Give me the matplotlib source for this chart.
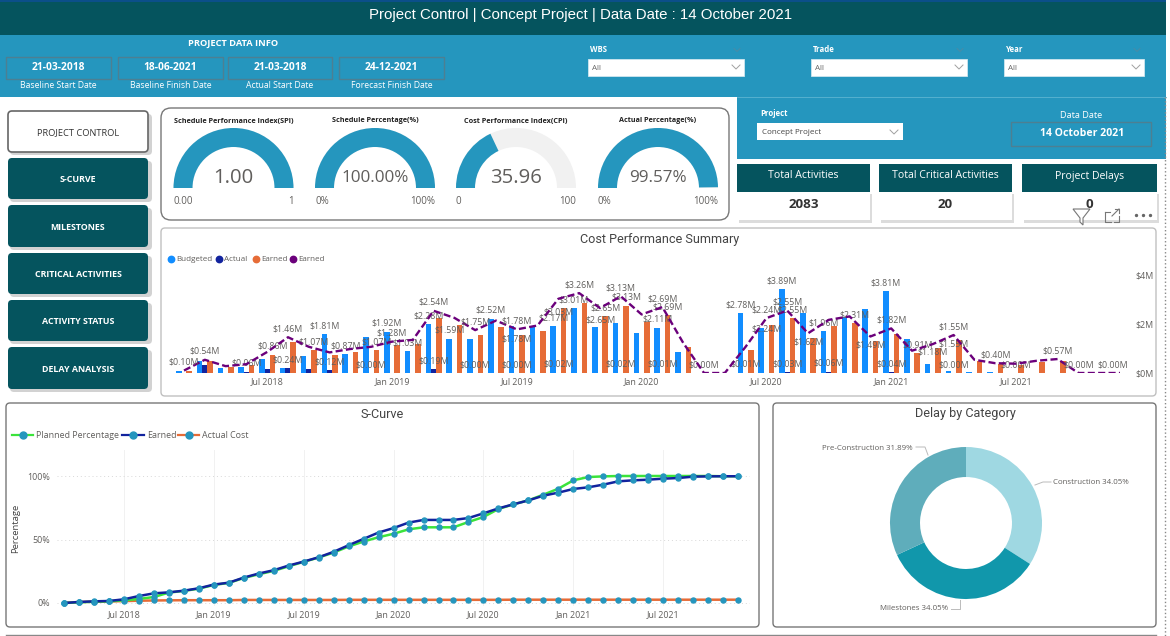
import matplotlib
matplotlib.use('Agg')
import matplotlib.pyplot as plt
from matplotlib.patches import FancyBboxPatch, Rectangle, Wedge, Polygon

W, H = 1170, 636
plt.rcParams['font.family'] = ['Open Sans', 'DejaVu Sans']

DARK = '#05545e'
BLUE = '#2596be'
GREY = '#605e5c'

# header info
title = 'Project Control | Concept Project | Data Date : 14 October 2021'
date_values = ['21-03-2018', '18-06-2021', '21-03-2018', '24-12-2021']
date_names = ['Baseline Start Date', 'Baseline Finish Date', 'Actual Start Date', 'Forecast Finish Date']
slicers = ['WBS', 'Trade', 'Year']
nav_items = ['PROJECT CONTROL', 'S-CURVE', 'MILESTONES', 'CRITICAL ACTIVITIES', 'ACTIVITY STATUS', 'DELAY ANALYSIS']
kpi_names = ['Total Activities', 'Total Critical Activities', 'Project Delays']
kpi_values = ['2083', '20', '0']

# gauges
gauge_titles = ['Schedule Performance Index(SPI)', 'Schedule Percentage(%)', 'Cost Performance Index(CPI)', 'Actual Percentage(%)']
gauge_values = [1.00, 100.00, 35.96, 99.57]
gauge_maxes = [1, 100, 100, 100]
gauge_texts = ['1.00', '100.00%', '35.96', '99.57%']
gauge_mins = ['0.00', '0%', '0', '0%']
gauge_tops = ['1', '100%', '100', '100%']

# monthly cost summary, Mar 2018 to Dec 2021, $M
budgeted = [0.10, 0.54, 0.23, 0.28, 0.65, 0.23, 0.80, 1.81, 0.87, 1.69, 1.92, 1.03, 2.28, 1.59, 1.59, 2.52,
            2.17, 2.17, 2.17, 3.01, 2.14, 2.33, 1.85, 2.11, 1.00, 0, 0, 2.78, 2.10, 3.89, 2.78, 1.96,
            2.59, 2.98, 3.81, 1.58, 0.42, 0.11, 0.06, 0.03, 0, 0, 0, 0, 0, 0]
actual = [0.02, 0.35, 0.00, 0.06, 0.17, 0.24, 0.17, 0.12, 0.01, 0.00, 0.01, 0.01, 0.19, 0.01, 0.00, 0.01,
          0.00, 0.01, 0.02, 0.01, 0.01, 0.02, 0.01, 0.01, 0.00, 0.00, 0, 0.01, 0.01, 0.03, 0.01, 0.06,
          0.01, 0.01, 0.04, 0.01, 0.00, 0.00, 0, 0, 0.00, 0, 0, 0, 0, 0]
earned = [0.10, 0.54, 0.28, 0.36, 0.86, 1.46, 1.07, 0.84, 0.98, 1.07, 1.28, 1.35, 2.54, 2.25, 1.75, 2.14,
          1.78, 1.94, 3.03, 3.26, 2.65, 3.13, 2.39, 2.69, 1.23, 0, 0, 1.07, 2.24, 2.55, 1.62, 2.17,
          2.31, 1.49, 1.82, 0.91, 1.18, 1.55, 0.54, 0.40, 0.38, 0.50, 0.57, 0.00, 0, 0]
month_ticks = [4, 10, 16, 22, 28, 34, 40]
month_labels = ['Jul 2018', 'Jan 2019', 'Jul 2019', 'Jan 2020', 'Jul 2020', 'Jan 2021', 'Jul 2021']

# which points carry a data label in the original
budget_labelled = [7, 8, 10, 11, 12, 13, 15, 18, 19, 23, 27, 29, 31, 34]
actual_labelled = [3, 5, 7, 9, 12, 14, 16, 18, 21, 23, 25, 27, 29, 31, 34, 37, 40]
earned_above = [4, 6, 9, 20, 21, 23, 29, 32, 35]
earned_below = [16, 18, 20, 28, 30, 33, 36, 37]
line_labelled = [0, 1, 5, 10, 12, 14, 16, 19, 21, 23, 28, 29, 34, 37, 39, 42, 43]

# s-curve, %
planned_pct = [0, 0.5, 1, 1.3, 2.1, 3.2, 4.7, 8.2, 9.5, 11.3, 14.2, 15.8, 19.7, 22.6, 25.3, 28.9, 32.4, 35.8, 39.7,
               44.5, 48.4, 51.8, 54.5, 58, 59.6, 59.6, 59.6, 63.8, 67.7, 74, 77.7, 80.8, 85.3, 90, 96.6, 99.2,
               99.7, 100, 100, 100, 100, 100, 100, 100, 99.8, 99.8]
earned_pct = [0, 0.8, 1.3, 1.6, 2.9, 5.5, 7.6, 8.4, 9.7, 11.6, 14.5, 16, 20, 23.2, 25.8, 29.5, 32.6, 36, 40.3,
              45.5, 50.5, 55.5, 59, 63.3, 65.4, 65.4, 65.4, 66.9, 70.6, 74.5, 77.7, 80.8, 84.5, 86.9, 89.8, 91.1,
              93.2, 95.8, 96.6, 97.1, 97.9, 98.4, 99.5, 99.7, 99.8, 99.8]
actual_pct = [0, 0.8, 1, 1.2, 1.5, 1.8, 2, 2.1, 2.2, 2.2, 2.2, 2.2, 2.4, 2.4, 2.4, 2.4, 2.4, 2.4, 2.4,
              2.5, 2.5, 2.5, 2.5, 2.5, 2.5, 2.5, 2.5, 2.5, 2.5, 2.5, 2.6, 2.6, 2.6, 2.6, 2.6, 2.6,
              2.6, 2.6, 2.6, 2.6, 2.6, 2.6, 2.6, 2.6, 2.6, 2.6]

# donut
delay_names = ['Construction', 'Milestones', 'Pre-Construction']
delay_values = [34.05, 34.05, 31.89]
delay_colors = ['#9fd8e2', '#1197ab', '#5fadbb']


def px_axes(x0, y0, x1, y1, **kw):
    return fig.add_axes([x0 / W, 1 - y1 / H, (x1 - x0) / W, (y1 - y0) / H], **kw)


def box(x0, y0, x1, y1, fc='white', ec='none', lw=1, r=0, **kw):
    if r:
        p = FancyBboxPatch((x0, y0), x1 - x0, y1 - y0, boxstyle=f'round,pad=0,rounding_size={r}',
                           fc=fc, ec=ec, lw=lw, **kw)
    else:
        p = Rectangle((x0, y0), x1 - x0, y1 - y0, fc=fc, ec=ec, lw=lw, **kw)
    bg.add_patch(p)


def label(x, y, s, **kw):
    kw.setdefault('va', 'center')
    bg.text(x, y + 1, s, **kw)


def chevron(x, y, color='#a0a0a0', s=4):
    bg.plot([x - s, x, x + s], [y - s / 2, y + s / 2, y - s / 2], color=color, lw=0.7)


fig = plt.figure(figsize=(W / 100, H / 100), dpi=100, facecolor='white')
bg = px_axes(0, 0, W, H)
bg.set_xlim(0, W)
bg.set_ylim(H, 0)
bg.axis('off')

# header bands
box(0, 0, 1166, 35, fc=DARK)
box(0, 0, 1166, 2, fc='#0b4f8a')
box(0, 35, 1166, 97, fc=BLUE)
label(581, 14, title, color='white', fontsize=10.8, ha='center', family='Liberation Sans')
label(233, 43, 'PROJECT DATA INFO', color='white', fontsize=6.7, fontweight='bold', ha='center')
date_boxes = [(6, 111), (118, 223), (228, 332), (339, 444)]
for (x0, x1), val, name in zip(date_boxes, date_values, date_names):
    box(x0, 57, x1, 79, fc='none', ec='#4d7f92', lw=1)
    label((x0 + x1) / 2, 67, val, color='white', fontsize=7.4, fontweight='bold', ha='center')
    label((x0 + x1) / 2, 85, name, color='white', fontsize=6.2, ha='center')
slicer_boxes = [(588, 744), (811, 967), (1004, 1144)]
for (x0, x1), name in zip(slicer_boxes, slicers):
    label(x0 + 2, 49, name, color='white', fontsize=5.6, fontweight='bold', ha='left')
    box(x0, 59, x1, 76, fc='white', ec='#cfe6ef', lw=0.6)
    label(x0 + 4, 68, 'All', color='#666666', fontsize=5.8, ha='left')
    chevron(x1 - 8, 67)
    chevron(x1 - 7, 50, color='#4b8ba5', s=3)

# project panel
box(737, 97, 1166, 159, fc=BLUE)
bg.plot([737, 1166], [97, 97], color='#5cb4d2', lw=0.6)
label(760, 113, 'Project', color='white', fontsize=5.6, fontweight='bold', ha='left')
box(757, 123, 903, 140, fc='white')
label(762, 131, 'Concept Project', color='#444444', fontsize=5.8, ha='left')
chevron(894, 132)
label(1081, 115, 'Data Date', color='white', fontsize=6.6, ha='center')
box(1011, 122, 1151, 146, fc='none', ec='#4d7f92', lw=1)
label(1082, 133, '14 October 2021', color='white', fontsize=7.6, fontweight='bold', ha='center')

# kpi tiles
for (x0, x1), name, val in zip([(737, 870), (879, 1012), (1022, 1157)], kpi_names, kpi_values):
    box(x0 + 2, 194, x1 + 2, 223, fc='#dcdcdc')
    box(x0, 192, x1, 220, fc='white')
    box(x0, 164, x1, 192, fc=DARK)
    label((x0 + x1) / 2, 175, name, color='white', fontsize=7.6, ha='center')
    label((x0 + x1) / 2, 204, val, color='#333333', fontsize=9.6, fontweight='bold', ha='center')

# visual header icons
bg.add_patch(Polygon([(1073, 209), (1090, 209), (1083, 218), (1083, 225), (1080, 222), (1080, 218)],
                     closed=True, fc='white', ec='#777777', lw=0.8))
bg.plot([1105, 1105, 1111], [212, 222, 222], color='#777777', lw=0.8)
bg.plot([1105, 1110], [212, 212], color='#777777', lw=0.8)
bg.plot([1114, 1119, 1119], [222, 222, 216], color='#777777', lw=0.8)
bg.plot([1112, 1119], [216, 209], color='#777777', lw=0.8)
bg.plot([1115, 1119, 1119], [209, 209, 213], color='#777777', lw=0.8)
bg.plot([1136, 1143, 1150], [215, 215, 215], ls='none', marker='o', ms=1.4, color='#666666')

# nav buttons
nav_y = [(111, 152), (158, 199), (205, 247), (253, 294), (300, 341), (347, 389)]
for i, ((y0, y1), name) in enumerate(zip(nav_y, nav_items)):
    box(10, y0 + 3, 152, y1 + 3, fc='#d2d2d2', r=4)
    if i == 0:
        box(8, y0, 148, y1, fc='white', ec='#666666', lw=1.2, r=4)
        label(78, (y0 + y1) / 2, name, color='#333333', fontsize=6.7, ha='center')
    else:
        box(8, y0, 148, y1, fc=DARK, r=4)
        label(78, (y0 + y1) / 2, name, color='white', fontsize=6.4, fontweight='bold', ha='center')

# gauge panel
box(161, 108, 729, 220, fc='white', ec='#777777', lw=1, r=10)
for cx, t, v, m, txt, lo, hi in zip([233.5, 375, 516, 658], gauge_titles, gauge_values, gauge_maxes,
                                    gauge_texts, gauge_mins, gauge_tops):
    frac = v / m
    bg.add_patch(Wedge((cx, 188), 60, 180, 360, width=19, fc='#f1f1f1', ec='none'))
    bg.add_patch(Wedge((cx, 188), 60, 180, 180 + 180 * frac, width=19, fc=BLUE, ec='none'))
    label(cx, 120, t, color='#222222', fontsize=5.2, fontweight='bold', ha='center')
    label(cx, 177, txt, color=GREY, fontsize=14.6 if len(txt) < 6 else 12.3, ha='center')
    label(cx - 60, 200, lo, color=GREY, fontsize=7, ha='left')
    label(cx + 60, 200, hi, color=GREY, fontsize=7, ha='right')

# panels
box(161, 228, 1156, 396, fc='white', ec='#c0c0c0', lw=1, r=4)
box(6, 403, 759, 627, fc='white', ec='#777777', lw=1, r=4)
box(773, 403, 1156, 627, fc='white', ec='#777777', lw=1, r=4)
bg.plot([6, 1156], [634.5, 634.5], color='#888888', lw=1)
bg.plot([1164.5, 1164.5], [97, 636], color='#888888', lw=1, ls=':')

for (x, y), t in zip([(660, 238), (382, 413), (965, 413)],
                     ['Cost Performance Summary', 'S-Curve', 'Delay by Category']):
    label(x, y, t, color='#444444', fontsize=9.1, ha='center', family='Roboto')

# cost legend
for x, c, t in zip([171, 219, 256, 293], ['#118dff', '#12239e', '#e66c37', '#6b007b'],
                   ['Budgeted', 'Actual', 'Earned', 'Earned']):
    bg.plot([x], [259], marker='o', ms=4.6, color=c)
    label(x + 5, 258.5, t, color=GREY, fontsize=5.8, ha='left')

# s-curve legend
for x0, x1, c, t in zip([12, 122, 178], [33, 144, 199], ['#3be33b', '#12239e', '#e66c37'],
                        ['Planned Percentage', 'Earned', 'Actual Cost']):
    bg.plot([x0, x1], [435, 435], color=c, lw=1.6)
    bg.plot([(x0 + x1) / 2], [435], marker='o', ms=5, color=BLUE)
    label(x1 + 3, 434.5, t, color=GREY, fontsize=6.4, ha='left')
label(16, 527, 'Percentage', color='#444444', fontsize=6.8, rotation=90, ha='center')

# cost chart, bars and line use separate value scales
ax = px_axes(163, 262, 1130, 373)
ax.patch.set_alpha(0)
months = list(range(len(earned)))
step = 20.8
ax.set_xlim((163 - 184) / step, (1130 - 184) / step)
ax.set_ylim(0, 111 / 21.5)
ax.bar([m - 0.25 for m in months], budgeted, width=0.27, color='#118dff')
ax.bar(months, actual, width=0.25, color='#12239e')
ax.bar([m + 0.25 for m in months], earned, width=0.27, color='#e66c37')
ax.set_xticks(month_ticks)
ax.set_xticklabels(month_labels, fontsize=6.4, color=GREY)
ax.set_yticks([])
ax.tick_params(axis='x', length=0, pad=3)
for s in ax.spines.values():
    s.set_visible(False)

ax2 = ax.twinx()
ax2.patch.set_alpha(0)
ax2.set_ylim(0, 111 / 24.5)
ax2.plot(months, earned, color='#6b007b', lw=1.7, ls=(0, (3, 1.4)))
ax2.set_yticks([0, 2, 4])
ax2.set_yticklabels(['$0M', '$2M', '$4M'], fontsize=6.4, color=GREY)
ax2.tick_params(axis='y', length=0, pad=4)
for s in ax2.spines.values():
    s.set_visible(False)


def money_label(a, x, y, v, dx=0, dy=6):
    a.annotate(f'${v:.2f}M', (x, y), xytext=(dx, dy), textcoords='offset points', fontsize=6.3,
               color=GREY, ha='center', va='center', annotation_clip=False, zorder=5)


for i in budget_labelled:
    money_label(ax, i - 0.25, budgeted[i], budgeted[i])
for i in actual_labelled:
    money_label(ax, i, actual[i], actual[i])
for i in earned_above:
    money_label(ax, i + 0.25, earned[i], earned[i])
for i in earned_below:
    money_label(ax, i + 0.25, earned[i], earned[i], dx=-3.6, dy=-3)
for i in line_labelled:
    money_label(ax2, i, earned[i], earned[i])
money_label(ax2, months[-1], earned[-1], earned[-1], dx=-5)

# s-curve
sc = px_axes(57, 450, 750, 606)
sc.patch.set_alpha(0)
sc_step = 14.98
sc.set_xlim((57 - 64) / sc_step, (750 - 64) / sc_step)
sc.set_ylim((603 - 606) / 1.27, (603 - 450) / 1.27)
sc.set_yticks([0, 50, 100])
sc.set_yticklabels(['0%', '50%', '100%'], fontsize=6.4, color=GREY)
sc.set_xticks(month_ticks)
sc.set_xticklabels(month_labels, fontsize=6.4, color=GREY)
sc.tick_params(length=0)
sc.tick_params(axis='x', pad=3)
sc.tick_params(axis='y', pad=5)
sc.grid(axis='x', color='#f1f1f1', lw=0.7)
sc.grid(axis='y', color='#d8d8d8', lw=0.7, ls=(0, (1, 3)))
sc.set_axisbelow(True)
for s in sc.spines.values():
    s.set_visible(False)
for vals, c in zip([actual_pct, planned_pct, earned_pct], ['#e66c37', '#3be33b', '#12239e']):
    sc.plot(months, vals, color=c, lw=1.8, marker='o', ms=3.6, mfc=BLUE, mec=BLUE, solid_capstyle='round')

# donut
dn = px_axes(966 - 76, 523 - 76, 966 + 76, 523 + 76)
dn.pie(delay_values, colors=delay_colors, startangle=90, counterclock=False, radius=1,
       wedgeprops={'width': 0.395, 'edgecolor': 'none'})
dn.set_xlim(-1, 1)
dn.set_ylim(-1, 1)

label(1053, 481, f'{delay_names[0]} {delay_values[0]:.2f}%', color=GREY, fontsize=5.7, ha='left')
bg.plot([1035, 1043, 1051], [485, 482, 482], color='#bbbbbb', lw=0.7)
label(948, 608, f'{delay_names[1]} {delay_values[1]:.2f}%', color=GREY, fontsize=5.7, ha='right')
bg.plot([951, 960, 960], [609, 609, 600], color='#bbbbbb', lw=0.7)
label(913, 447, f'{delay_names[2]} {delay_values[2]:.2f}%', color=GREY, fontsize=5.7, ha='right')
bg.plot([916, 925, 928], [447, 447, 455], color='#bbbbbb', lw=0.7)

fig.savefig('out.png', dpi=100)
